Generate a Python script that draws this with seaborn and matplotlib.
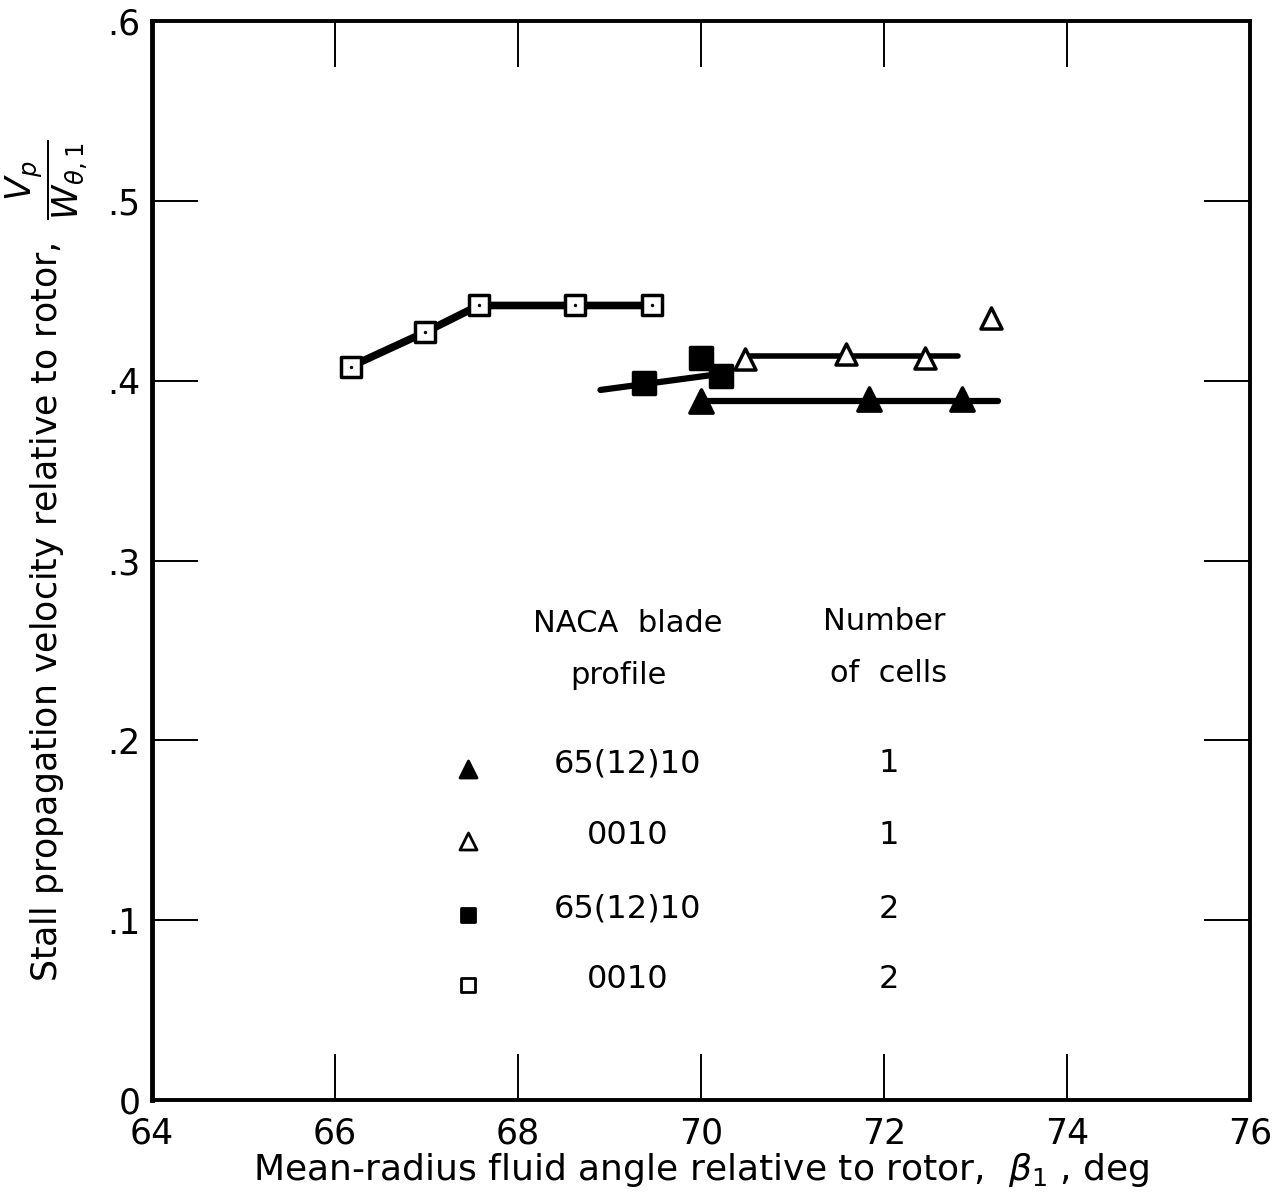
import matplotlib
matplotlib.use('Agg')
import matplotlib.pyplot as plt
import seaborn as sns
import pandas as pd

# NACA 65(12)10 blade, 1 cell (solid triangles)
solid_tri_x = [70.0, 71.83, 72.85]
solid_tri_y = [0.389, 0.390, 0.390]
solid_tri_fair_x = [70.0, 73.24]
solid_tri_fair_y = [0.389, 0.389]

# NACA 0010 blade, 1 cell (open triangles)
open_tri_x = [70.48, 71.58, 72.45, 73.17]
open_tri_y = [0.412, 0.415, 0.413, 0.435]
open_tri_fair_x = [70.48, 72.81]
open_tri_fair_y = [0.414, 0.414]

# NACA 65(12)10 blade, 2 cells (solid squares)
solid_sq_x = [69.38, 70.0, 70.22]
solid_sq_y = [0.399, 0.413, 0.403]
solid_sq_fair_x = [68.9, 70.22]
solid_sq_fair_y = [0.395, 0.404]

# NACA 0010 blade, 2 cells (open squares)
open_sq_x = [66.17, 66.98, 67.57, 68.62, 69.46]
open_sq_y = [0.408, 0.427, 0.442, 0.442, 0.442]

x_ticks = [64, 66, 68, 70, 72, 74, 76]
y_ticks = [0, 0.1, 0.2, 0.3, 0.4, 0.5, 0.6]
y_tick_labels = ['0', '.1', '.2', '.3', '.4', '.5', '.6']

legend_profiles = ['65(12)10', '0010', '65(12)10', '0010']
legend_cells = ['1', '1', '2', '2']
legend_markers = ['^', '^', 's', 's']
legend_filled = [True, False, True, False]


def draw_series(ax, x, y, marker, filled, size):
    df = pd.DataFrame({'x': x, 'y': y})
    face = 'black' if filled else 'white'
    sns.scatterplot(data=df, x='x', y='y', marker=marker, s=size,
                    color=face, edgecolor='black', linewidth=2.5, zorder=4, ax=ax)


def draw_fair(ax, x, y, width):
    df = pd.DataFrame({'x': x, 'y': y})
    sns.lineplot(data=df, x='x', y='y', color='black', linewidth=width,
                 solid_capstyle='round', sort=False, zorder=3, ax=ax)


def main():
    sns.set_style('ticks')
    plt.rcParams['font.family'] = ['DejaVu Sans']
    plt.rcParams['mathtext.fontset'] = 'dejavusans'
    plt.rcParams['text.color'] = 'black'
    plt.rcParams['axes.labelcolor'] = 'black'
    plt.rcParams['xtick.color'] = 'black'
    plt.rcParams['ytick.color'] = 'black'

    fig = plt.figure(figsize=(12.76, 11.93), dpi=100)
    ax = fig.add_axes([0.119, 0.078, 0.861, 0.904])

    draw_fair(ax, open_sq_x, open_sq_y, 5.5)
    draw_fair(ax, solid_sq_fair_x, solid_sq_fair_y, 4.5)
    draw_fair(ax, open_tri_fair_x, open_tri_fair_y, 4)
    draw_fair(ax, solid_tri_fair_x, solid_tri_fair_y, 4.5)

    draw_series(ax, open_sq_x, open_sq_y, 's', False, 220)
    sns.scatterplot(x=open_sq_x, y=open_sq_y, marker='o', s=6, color='black',
                    linewidth=0, zorder=5, ax=ax)
    draw_series(ax, solid_sq_x, solid_sq_y, 's', True, 260)
    draw_series(ax, open_tri_x, open_tri_y, '^', False, 230)
    draw_series(ax, solid_tri_x, solid_tri_y, '^', True, 280)

    # legend table
    ax.text(69.2, 0.265, 'NACA  blade', fontsize=22, ha='center', va='center')
    ax.text(69.1, 0.236, 'profile', fontsize=22, ha='center', va='center')
    ax.text(72.0, 0.266, 'Number', fontsize=22, ha='center', va='center')
    ax.text(72.05, 0.237, 'of  cells', fontsize=22, ha='center', va='center')
    rows_y = [0.187, 0.147, 0.106, 0.067]
    for i in range(4):
        face = 'black' if legend_filled[i] else 'white'
        ax.scatter([67.45], [rows_y[i] - 0.003], marker=legend_markers[i],
                   s=150 if legend_markers[i] == '^' else 110,
                   facecolor=face, edgecolor='black', linewidth=2, zorder=4)
        ax.text(69.2, rows_y[i], legend_profiles[i], fontsize=23, ha='center', va='center')
        ax.text(72.05, rows_y[i], legend_cells[i], fontsize=23, ha='center', va='center')

    ax.set_xlim(64, 76)
    ax.set_ylim(0, 0.6)
    ax.set_xticks(x_ticks)
    ax.set_xticklabels([str(t) for t in x_ticks])
    ax.set_yticks(y_ticks)
    ax.set_yticklabels(y_tick_labels)
    ax.tick_params(direction='in', length=33, width=1.4, top=True, right=True,
                   labelsize=25, pad=8, color='black')
    ax.tick_params(axis='x', pad=12)
    for side in ['left', 'bottom', 'top', 'right']:
        ax.spines[side].set_linewidth(2.8)
        ax.spines[side].set_color('black')
    ax.spines['left'].set_linewidth(3.5)

    ax.set_xlabel(r'Mean-radius fluid angle relative to rotor,  $\beta_1$ , deg',
                  fontsize=26, labelpad=0)
    ax.set_ylabel(r'Stall propagation velocity relative to rotor,  $\dfrac{V_p}{W_{\theta,1}}$',
                  fontsize=25)
    ax.yaxis.set_label_coords(-0.056, 0.5)

    plt.savefig('out.png', dpi=100, facecolor='white')


if __name__ == '__main__':
    main()
